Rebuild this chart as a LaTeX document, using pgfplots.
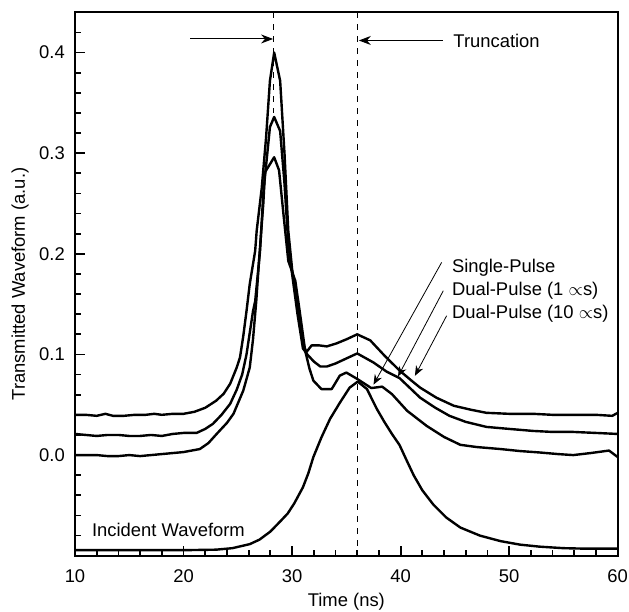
\documentclass[border=0pt]{standalone}
\usepackage{fontspec}
\setmainfont{Liberation Sans}
\usepackage{pgfplots}
\pgfplotsset{compat=1.18}
\usetikzlibrary{arrows.meta}

\begin{document}
\begin{tikzpicture}[font=\fontsize{9.2}{11}\selectfont]
\begin{axis}[
    scale only axis,
    width=271.35pt, height=271.7pt,
    xmin=10, xmax=60,
    ymin=-0.1, ymax=0.44,
    axis on top,
    axis line style={line width=1.1pt},
    tick align=inside,
    tick pos=left,
    xtick={10,20,...,60},
    minor xtick={12,14,...,58},
    ytick={0,0.1,0.2,0.3,0.4},
    minor ytick={-0.08,-0.06,-0.04,-0.02,0.02,0.04,0.06,0.08,0.12,0.14,0.16,0.18,0.22,0.24,0.26,0.28,0.32,0.34,0.36,0.38,0.42},
    major tick length=5pt, minor tick length=2.9pt,
    tick style={line width=0.9pt, black},
    /pgf/number format/assume math mode=true,
    yticklabel style={/pgf/number format/fixed, /pgf/number format/fixed zerofill,
        /pgf/number format/precision=1, xshift=-1.6pt},
    xticklabel style={yshift=-3.3pt},
    xlabel={Time (ns)},
    ylabel={Transmitted Waveform (a.u.)},
    xlabel style={at={(axis description cs:0.5,-0.0846)}, anchor=center},
    ylabel style={at={(axis description cs:-0.101,0.5)}, anchor=center},
    curve/.style={black, line width=1.2pt, line join=round, mark=none},
]

% Dual-Pulse (10 us), offset 0.04
\addplot[curve] coordinates {
(10,0.040) (11,0.040) (12,0.039) (12.8,0.041) (13.5,0.039) (14.5,0.039) (15.5,0.040)
(16.5,0.040) (17.3,0.041) (18,0.040) (19,0.041) (20,0.041) (21,0.043) (22,0.047)
(23,0.054) (23.7,0.061) (24.3,0.071) (24.9,0.087) (25.2,0.097) (25.5,0.118) (25.8,0.143)
(26.1,0.170) (26.6,0.203) (26.74,0.223) (27.2,0.265) (27.6,0.315) (27.96,0.372)
(28.35,0.400) (28.9,0.372) (29.3,0.300) (29.65,0.223) (30.0,0.185) (30.5,0.150)
(31.0,0.112) (31.3,0.102) (31.8,0.109) (32.5,0.109) (33.2,0.108) (34.1,0.111)
(35.0,0.115) (36.0,0.120) (37.2,0.114) (38.5,0.099) (39.9,0.084) (41.0,0.074)
(41.8,0.067) (43.3,0.057) (44.9,0.049) (46.5,0.045) (47.9,0.042) (50,0.041)
(52.2,0.041) (54,0.040) (56,0.040) (58,0.040) (59.5,0.039) (60,0.042)
};

% Dual-Pulse (1 us), offset 0.02
\addplot[curve] coordinates {
(10,0.021) (11,0.020) (12,0.019) (13,0.020) (14,0.020) (15,0.019) (16,0.019)
(17,0.020) (18,0.019) (19,0.021) (20,0.022) (21.2,0.022) (22,0.026) (22.7,0.031)
(23.5,0.040) (24.3,0.051) (24.9,0.065) (25.4,0.080) (25.8,0.100) (26.4,0.143)
(26.6,0.153) (27.05,0.203) (27.35,0.260) (27.96,0.326) (28.35,0.336) (28.9,0.322)
(29.3,0.270) (29.65,0.210) (30.0,0.180) (30.5,0.140) (31.0,0.106) (31.4,0.100)
(32.0,0.093) (32.6,0.088) (33.2,0.088) (34.0,0.091) (35.0,0.096) (36.0,0.101)
(37.5,0.092) (38.7,0.083) (39.9,0.0765) (41.8,0.057) (43.2,0.047) (44.5,0.039)
(46,0.033) (47.9,0.028) (50,0.026) (52.2,0.024) (54,0.023) (55.9,0.023) (58,0.022)
(60,0.021)
};

% Single-Pulse, offset 0
\addplot[curve] coordinates {
(10,0.000) (11,0.000) (12,0.000) (13,-0.001) (14,-0.001) (15,0.000) (16,-0.001)
(17,0.000) (18,0.001) (19,0.002) (20,0.003) (21.5,0.006) (22.3,0.012) (23.05,0.021)
(24.0,0.032) (24.6,0.041) (25.5,0.064) (26.1,0.087) (26.4,0.115) (26.7,0.153)
(27.0,0.200) (27.35,0.250) (27.5,0.281) (27.9,0.288) (28.35,0.296) (28.8,0.283)
(29.2,0.240) (29.65,0.193) (30.3,0.173) (30.7,0.143) (31.2,0.104) (31.6,0.086)
(31.96,0.074) (32.7,0.0656) (33.65,0.0656) (34.4,0.079) (35.0,0.082) (35.95,0.076)
(37.3,0.0666) (38.3,0.068) (39.2,0.0606) (40.6,0.044) (42.4,0.029)
(44,0.018) (45.5,0.0102) (47,0.008) (49.2,0.006) (51,0.004) (52.8,0.0026)
(54.5,0.001) (55.9,0.000) (57.5,0.002) (59.2,0.0045) (60,-0.002)
};

% Incident waveform
\addplot[curve] coordinates {
(10,-0.0945) (15,-0.0945) (20,-0.0945) (23,-0.094) (24.5,-0.0925) (26.1,-0.0885)
(27.0,-0.084) (28.0,-0.076) (28.9,-0.066) (29.6,-0.058) (30.2,-0.048) (31.0,-0.032)
(31.5,-0.018) (31.96,-0.002) (32.7,0.0175) (33.5,0.036) (34.4,0.052) (35.3,0.067)
(36.05,0.073) (36.9,0.0656) (37.8,0.046) (38.5,0.033) (39.2,0.021) (39.9,0.010)
(40.5,-0.004) (41.2,-0.020) (42,-0.035) (43,-0.049) (44.2,-0.062) (45.5,-0.072)
(47.3,-0.080) (49.2,-0.0855) (51,-0.089) (52.8,-0.091) (55,-0.0925) (57,-0.093)
(60,-0.093)
};

% truncation markers
\draw[line width=0.5pt, dash pattern=on 3pt off 3pt] (axis cs:28.33,0.44) -- (axis cs:28.33,0.34);
\draw[line width=0.5pt, dash pattern=on 3pt off 3pt] (axis cs:36.05,0.44) -- (axis cs:36.05,-0.1);
\draw[line width=0.5pt, -{Stealth[length=6pt,width=4.5pt]}] (axis cs:20.6,0.4135) -- (axis cs:28.25,0.4135);
\draw[line width=0.5pt, -{Stealth[length=6pt,width=4.5pt]}] (axis cs:43.9,0.412) -- (axis cs:36.15,0.412);
\node[anchor=west, inner sep=0pt] at (axis cs:44.83,0.412) {Truncation};

% curve labels
\node[anchor=west, inner sep=0pt] at (axis cs:44.7,0.1865) {Single-Pulse};
\node[anchor=west, inner sep=0pt] at (axis cs:44.7,0.1633) {Dual-Pulse (1 $\propto$s)};
\node[anchor=west, inner sep=0pt] at (axis cs:44.7,0.1400) {Dual-Pulse (10 $\propto$s)};
\draw[line width=0.4pt, -{Stealth[length=5pt,width=4pt]}] (axis cs:43.78,0.1915) -- (axis cs:37.50,0.0700);
\draw[line width=0.4pt, -{Stealth[length=5pt,width=4pt]}] (axis cs:43.93,0.1633) -- (axis cs:39.76,0.0781);
\draw[line width=0.4pt, -{Stealth[length=5pt,width=4pt]}] (axis cs:44.24,0.1385) -- (axis cs:41.32,0.0788);

\node[anchor=west, inner sep=0pt] at (axis cs:11.54,-0.0746) {Incident Waveform};
\end{axis}
\pgfresetboundingbox
\path ([shift={(-37.5pt,-27.65pt)}]current axis.south west)
    rectangle ([shift={(5.65pt,6.15pt)}]current axis.north east);
\end{tikzpicture}
\end{document}
